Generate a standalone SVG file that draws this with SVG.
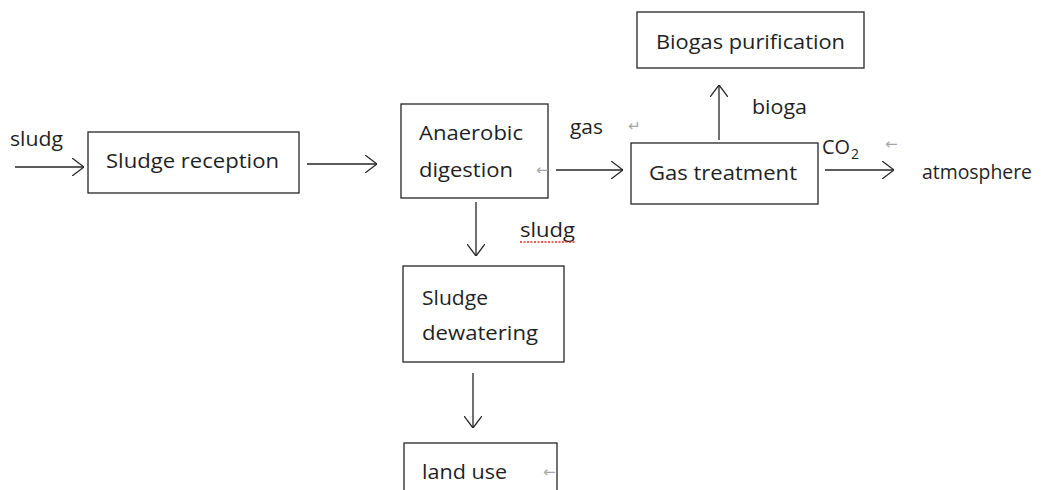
<svg xmlns="http://www.w3.org/2000/svg" width="1047" height="490" viewBox="0 0 1047 490">
<style>
.box{fill:#fff;stroke:#262626;stroke-width:1.3}
.t{font-family:"Open Sans","Liberation Sans",sans-serif;font-size:20.5px;fill:#1f1f1f}
.c{fill:none;stroke:#262626;stroke-width:1.3}
.m{font-family:"DejaVu Sans",sans-serif;font-size:15px;fill:#a6a6a6}
</style>
<defs>
<marker id="ah" viewBox="0 0 12 18" refX="12" refY="9" markerWidth="12" markerHeight="18" markerUnits="userSpaceOnUse" orient="auto">
<path d="M0,0 L12,9 L0,18" fill="none" stroke="#262626" stroke-width="1.3"/>
</marker>
</defs>
<rect width="1047" height="490" fill="#fff"/>
<g id="connectors">
<line class="c" x1="15" y1="167" x2="84" y2="167" marker-end="url(#ah)"/>
<line class="c" x1="307" y1="164" x2="377" y2="164" marker-end="url(#ah)"/>
<line class="c" x1="556" y1="170" x2="623" y2="170" marker-end="url(#ah)"/>
<line class="c" x1="719" y1="140" x2="719" y2="85" marker-end="url(#ah)"/>
<line class="c" x1="825" y1="170" x2="894" y2="170" marker-end="url(#ah)"/>
<line class="c" x1="476" y1="202" x2="476" y2="256" marker-end="url(#ah)"/>
<line class="c" x1="473" y1="373" x2="473" y2="428" marker-end="url(#ah)"/>
</g>
<g id="labels">
<text class="t" x="10" y="146" textLength="53" lengthAdjust="spacingAndGlyphs">sludg</text>
<text class="t" x="570" y="134" textLength="33" lengthAdjust="spacingAndGlyphs">gas</text>
<text class="m" x="628" y="131">↵</text>
<text class="t" x="752" y="114" textLength="55" lengthAdjust="spacingAndGlyphs">bioga</text>
<text class="t" x="822" y="154" textLength="28" lengthAdjust="spacingAndGlyphs">CO</text>
<text class="t" x="851" y="159" style="font-size:14px">2</text>
<text class="m" x="885" y="149">←</text>
<text class="t" x="922" y="179" textLength="110" lengthAdjust="spacingAndGlyphs">atmosphere</text>
<text class="t" x="520" y="237" textLength="55" lengthAdjust="spacingAndGlyphs">sludg</text>
<line x1="520" y1="242" x2="576" y2="242" stroke="#e8281e" stroke-width="1.4" stroke-dasharray="2,1.5"/>
</g>
<g id="sludge-reception">
<rect class="box" x="88" y="132" width="211" height="61"/>
<text class="t" x="106" y="168" textLength="173" lengthAdjust="spacingAndGlyphs">Sludge reception</text>
</g>
<g id="anaerobic-digestion">
<rect class="box" x="401" y="104" width="147" height="94"/>
<text class="t" x="419" y="140" textLength="104" lengthAdjust="spacingAndGlyphs">Anaerobic</text>
<text class="t" x="419" y="177" textLength="94" lengthAdjust="spacingAndGlyphs">digestion</text>
<text class="m" x="536" y="175">←</text>
</g>
<g id="gas-treatment">
<rect class="box" x="631" y="143" width="187" height="61"/>
<text class="t" x="649" y="180" textLength="148" lengthAdjust="spacingAndGlyphs">Gas treatment</text>
</g>
<g id="biogas-purification">
<rect class="box" x="637" y="12" width="227" height="56"/>
<text class="t" x="656" y="49" textLength="189" lengthAdjust="spacingAndGlyphs">Biogas purification</text>
</g>
<g id="sludge-dewatering">
<rect class="box" x="403" y="266" width="161" height="96"/>
<text class="t" x="422" y="305" textLength="66" lengthAdjust="spacingAndGlyphs">Sludge</text>
<text class="t" x="422" y="340" textLength="116" lengthAdjust="spacingAndGlyphs">dewatering</text>
</g>
<g id="land-use">
<rect class="box" x="404" y="443" width="153" height="60"/>
<text class="t" x="422" y="479" textLength="85" lengthAdjust="spacingAndGlyphs">land use</text>
<text class="m" x="543" y="477">←</text>
</g>
</svg>
